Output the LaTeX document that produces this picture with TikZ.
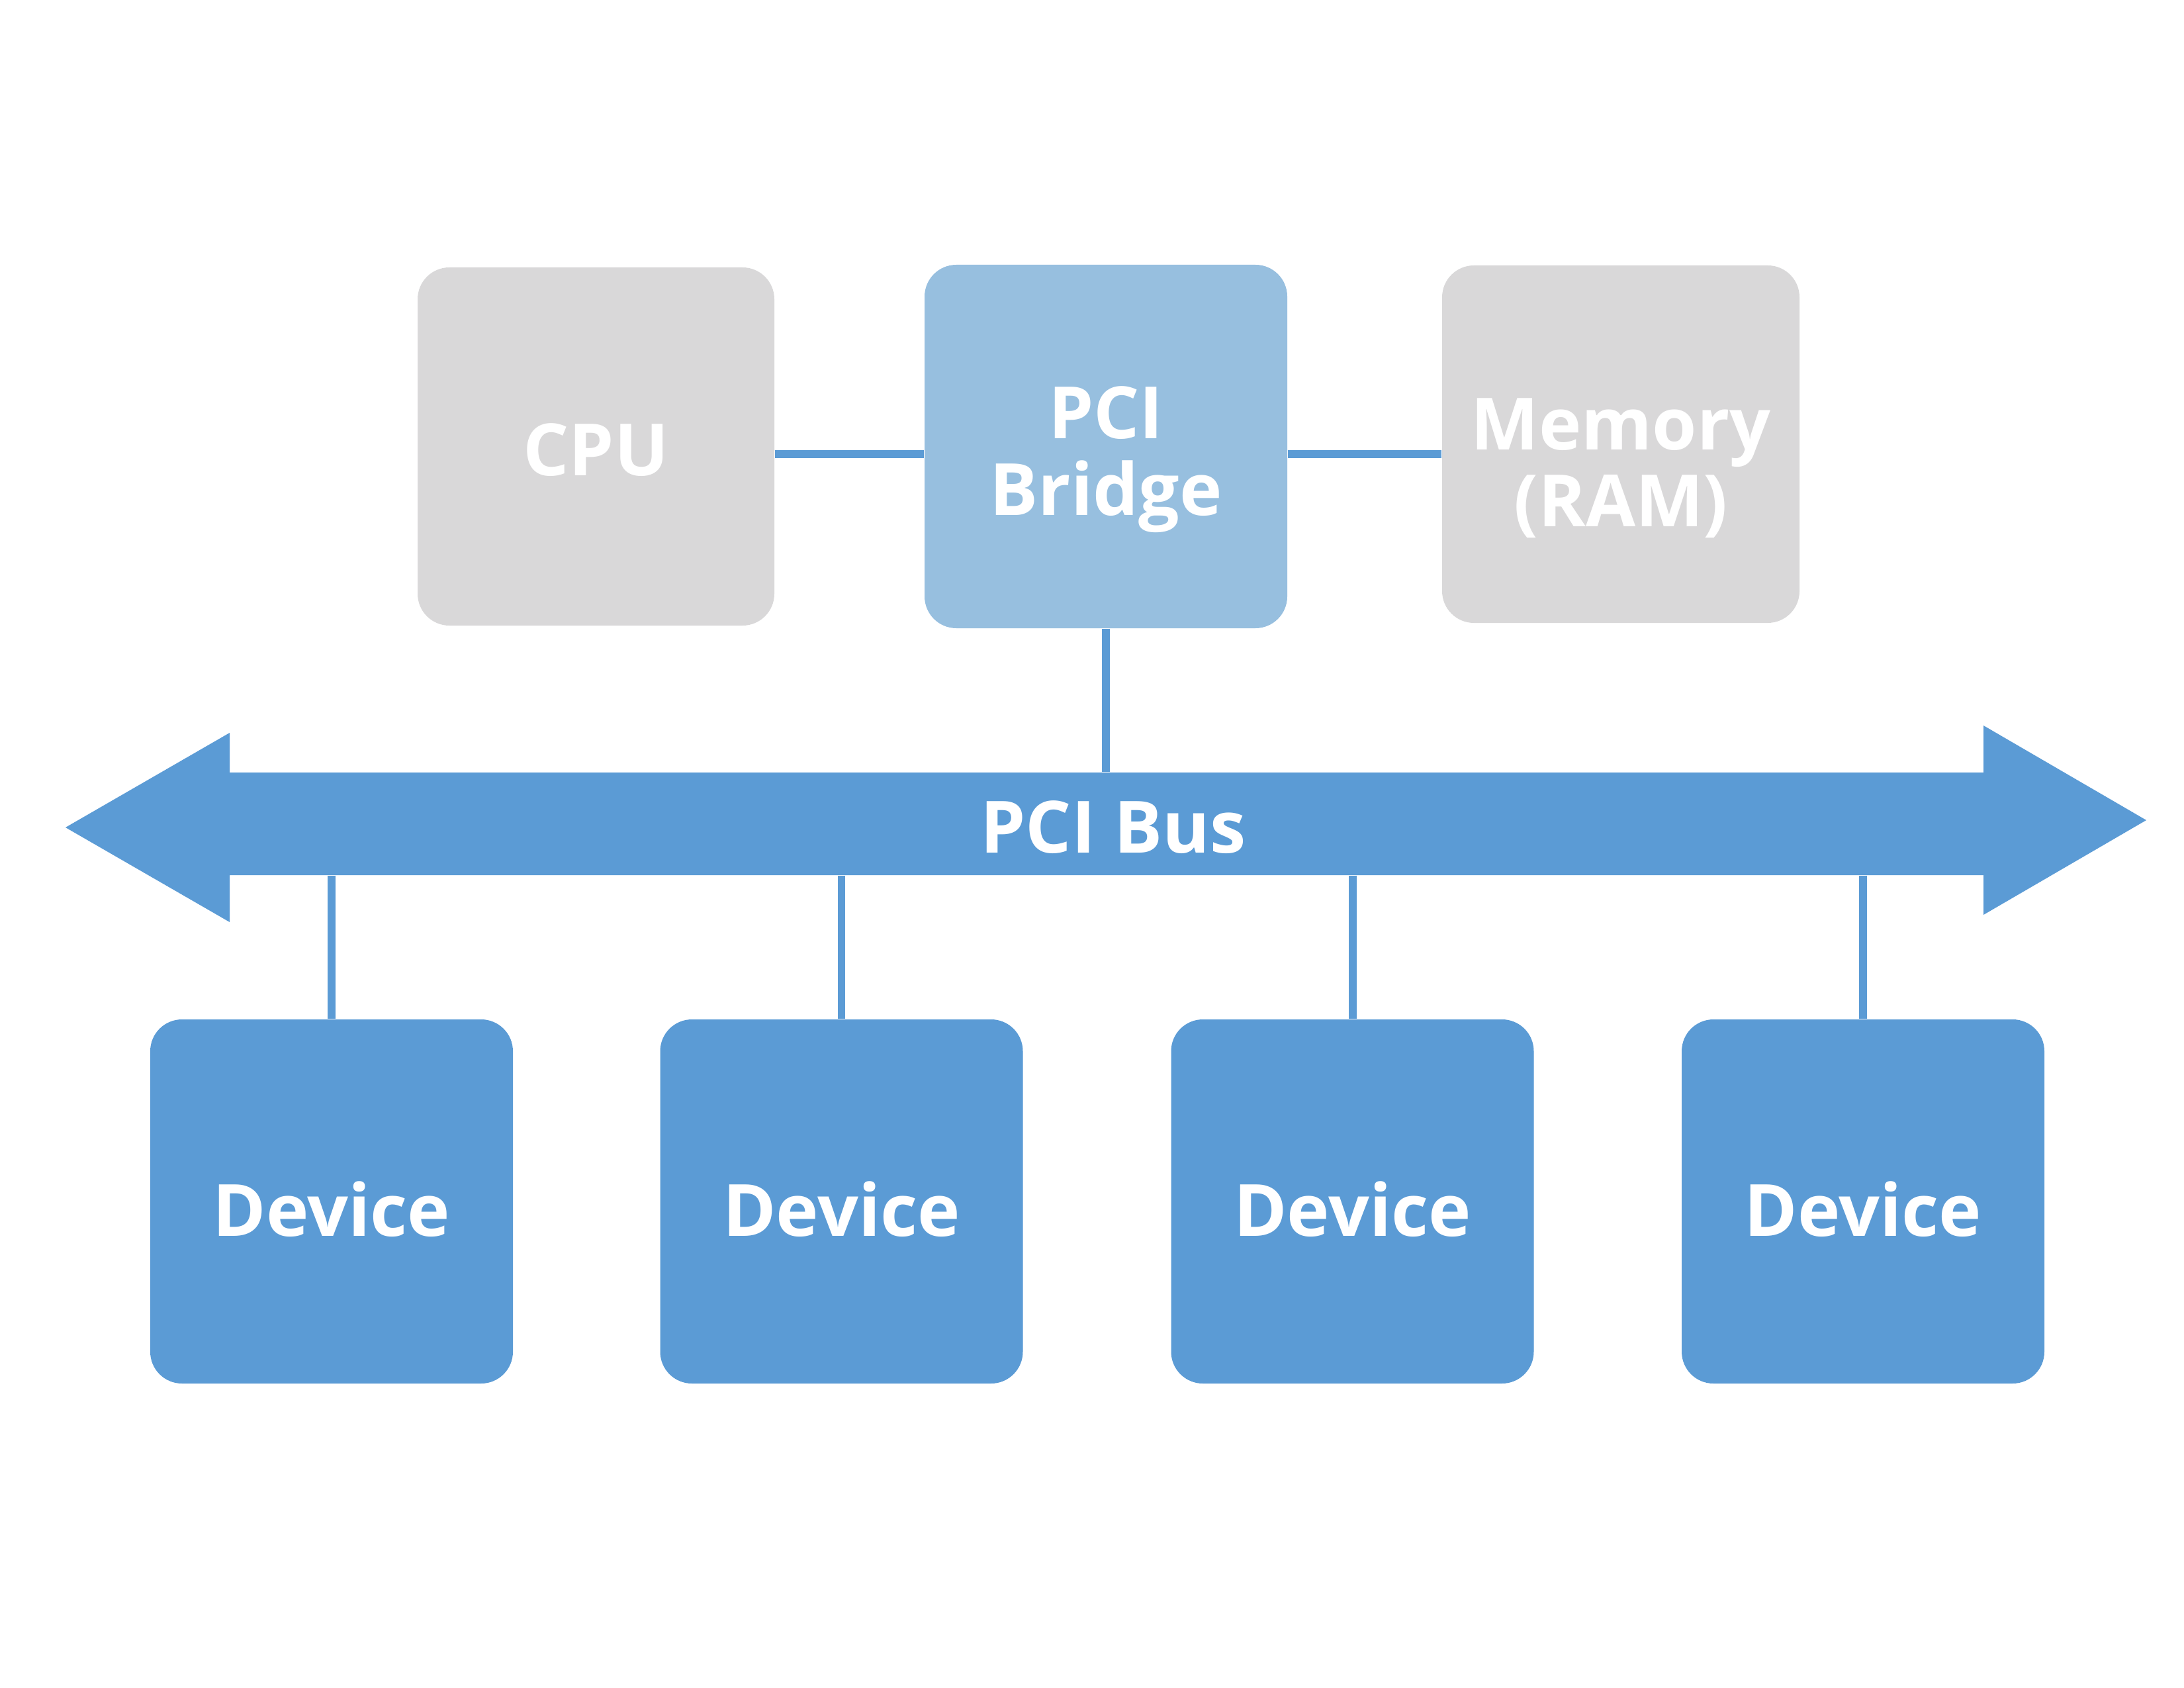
\documentclass[tikz,border=0pt]{standalone}
\usepackage{fontspec}
\setmainfont{Open Sans}
\definecolor{busblue}{HTML}{5B9BD5}
\definecolor{bridgeblue}{HTML}{97BFDF}
\definecolor{boxgray}{HTML}{D9D8D9}
\tikzset{
  box/.style={rectangle, rounded corners=0.48cm, inner sep=0pt},
  lbl/.style={inner sep=0pt, align=center, text=white, font=\fontsize{31}{33}\selectfont\bfseries},
  graybox/.style={box, fill=boxgray},
  devbox/.style={box, fill=busblue, minimum width=5.48cm, minimum height=5.50cm},
  link/.style={draw=busblue, line width=3.4pt},
}
\begin{document}
\begin{tikzpicture}
\useasboundingbox (0,0) rectangle (33,-25.5);
% top row
\node[graybox, minimum width=5.39cm, minimum height=5.41cm] (cpu) at (9.005,-6.745) {};
\node[box, fill=bridgeblue, minimum width=5.48cm, minimum height=5.49cm] (bridge) at (16.71,-6.745) {};
\node[graybox, minimum width=5.40cm, minimum height=5.40cm] (mem) at (24.49,-6.71) {};
\node[lbl] (cpulbl) at ([yshift=-0.05cm]cpu.center) {CPU};
\node[lbl] (bridgelbl) at ([yshift=-0.2cm]bridge.center) {PCI\\Bridge};
\node[lbl] (memlbl) at ([yshift=-0.36cm]mem.center) {Memory\\(RAM)};
% bus
\fill[busblue] (0.99,-12.50) -- (3.47,-11.07) -- (3.47,-11.67) -- (29.97,-11.67) -- (29.97,-10.96)
  -- (32.43,-12.39) -- (29.97,-13.82) -- (29.97,-13.22) -- (3.47,-13.22) -- (3.47,-13.93) -- cycle;
\node[inner sep=0pt, minimum width=26.5cm, minimum height=1.55cm] (bus) at (16.72,-12.445) {};
\node[lbl] (buslabel) at (16.82,-12.50) {PCI Bus};
% devices
\foreach \n/\x in {d1/5.01, d2/12.715, d3/20.435, d4/28.15}{
  \node[devbox] (\n) at (\x,-18.15) {};
  \node[lbl] (\n lbl) at ([yshift=-0.12cm]\n.center) {Device};
}
% connectors
\draw[link] (cpu.east |- 0,-6.86) -- (bridge.west |- 0,-6.86);
\draw[link] (bridge.east |- 0,-6.86) -- (mem.west |- 0,-6.86);
\draw[link] (bridge.south) -- (bridge.south |- bus.north);
\foreach \d in {d1,d2,d3,d4}{
  \draw[link] (\d.north |- bus.south) -- (\d.north);
}
\end{tikzpicture}
\end{document}
